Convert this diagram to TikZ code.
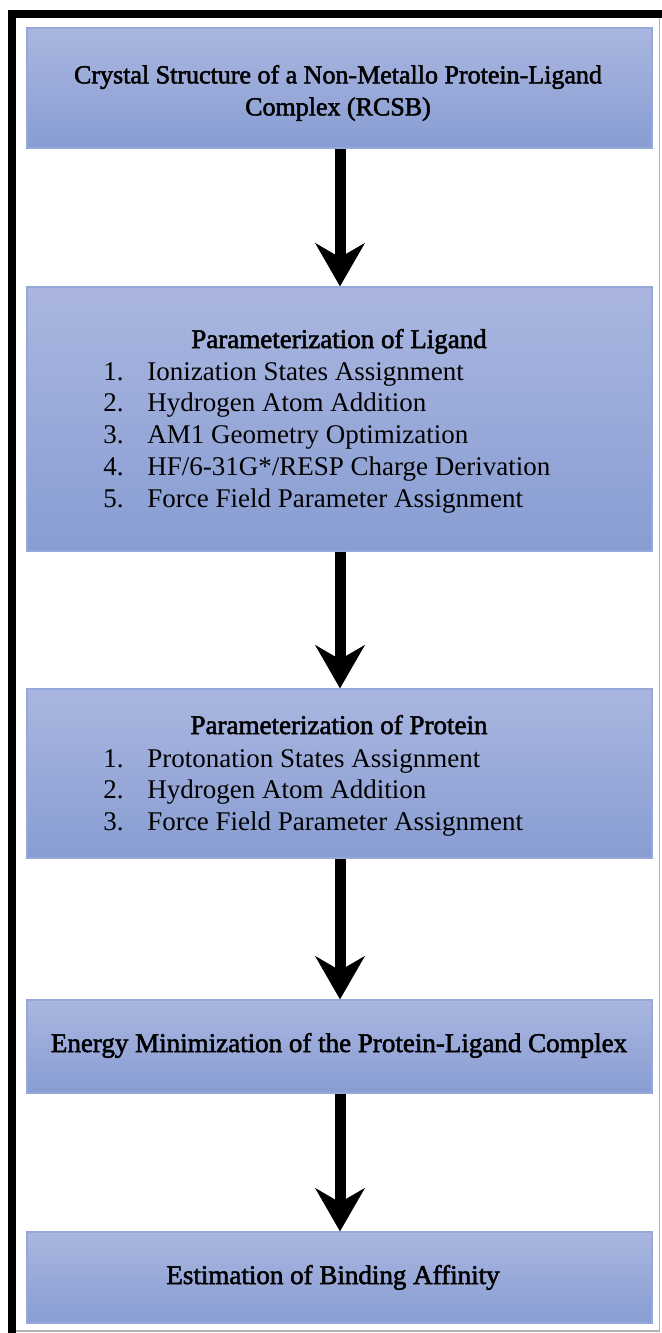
\documentclass[tikz,border=0pt]{standalone}
\usepackage{fontspec}
\setmainfont{Liberation Serif}
\newfontfamily\headfont[FakeBold=2]{Liberation Serif}
\usetikzlibrary{arrows.meta}

\definecolor{boxtop}{RGB}{170,182,224}
\definecolor{boxbot}{RGB}{136,157,210}
\definecolor{boxedge}{RGB}{150,168,218}

\tikzset{
  stage/.style={draw=boxedge, line width=0.6pt, top color=boxtop, bottom color=boxbot,
                minimum width=312.5pt, inner sep=0pt, align=center},
  flow/.style={line width=5.5pt, -{Stealth[length=21.5pt, width=24.5pt, inset=7pt]}},
  headtxt/.style={font=\headfont\fontsize{13.5}{16}\selectfont, inner sep=0pt},
  itemtxt/.style={font=\fontsize{13.5}{15.9}\selectfont, inner sep=0pt, anchor=base west}
}

\begin{document}
\begin{tikzpicture}[x=0.5pt, y=-0.5pt]
  % canvas and frame
  \useasboundingbox (0,0) rectangle (662,1333);
  \fill[white] (0,0) rectangle (662,1333);
  \draw[gray!60, line width=0.6pt] (12,13.5) -- (659.5,13.5) -- (659.5,1331) -- (12,1331);
  \draw[black, line width=4pt] (12,1333) -- (12,13.5) -- (662,13.5);

  % stages
  \node[stage, minimum height=60pt]   (crystal) at (339.5,88)    {};
  \node[stage, minimum height=132pt]  (ligand)  at (339.5,419)   {};
  \node[stage, minimum height=84.5pt] (protein) at (339.5,773.5) {};
  \node[stage, minimum height=46.5pt] (emin)    at (339.5,1046.5) {};
  \node[stage, minimum height=45.5pt] (bind)    at (339.5,1277.5) {};

  % stage texts
  \node[headtxt, font=\headfont\fontsize{13}{16}\selectfont, align=center] (crystaltxt) at (338,93)
    {Crystal Structure of a Non-Metallo Protein-Ligand\\Complex (RCSB)};

  \node[headtxt, anchor=base] (ligandhead) at (339,348) {Parameterization of Ligand};
  \node[itemtxt] (ligandlist) at (103,380) {%
    \begin{tabular}[t]{@{}p{22pt}@{}l@{}}
      1. & Ionization States Assignment\\
      2. & Hydrogen Atom Addition\\
      3. & AM1 Geometry Optimization\\
      4. & HF/6-31G*/RESP Charge Derivation\\
      5. & Force Field Parameter Assignment
    \end{tabular}};

  \node[headtxt, anchor=base] (proteinhead) at (339,734) {Parameterization of Protein};
  \node[itemtxt] (proteinlist) at (103,767) {%
    \begin{tabular}[t]{@{}p{22pt}@{}l@{}}
      1. & Protonation States Assignment\\
      2. & Hydrogen Atom Addition\\
      3. & Force Field Parameter Assignment
    \end{tabular}};

  \node[headtxt, anchor=base] (emintxt) at (339,1052)
    {Energy Minimization of the Protein-Ligand Complex};
  \node[headtxt, anchor=base] (bindtxt) at (333,1284)
    {Estimation of Binding Affinity};

  % connectors
  \draw[flow] (crystal.south -| 340,0) -- (ligand.north -| 340,0);
  \draw[flow] (ligand.south -| 340,0)  -- (protein.north -| 340,0);
  \draw[flow] (protein.south -| 340,0) -- (emin.north -| 340,0);
  \draw[flow] (emin.south -| 340,0)    -- (bind.north -| 340,0);
\end{tikzpicture}
\end{document}
